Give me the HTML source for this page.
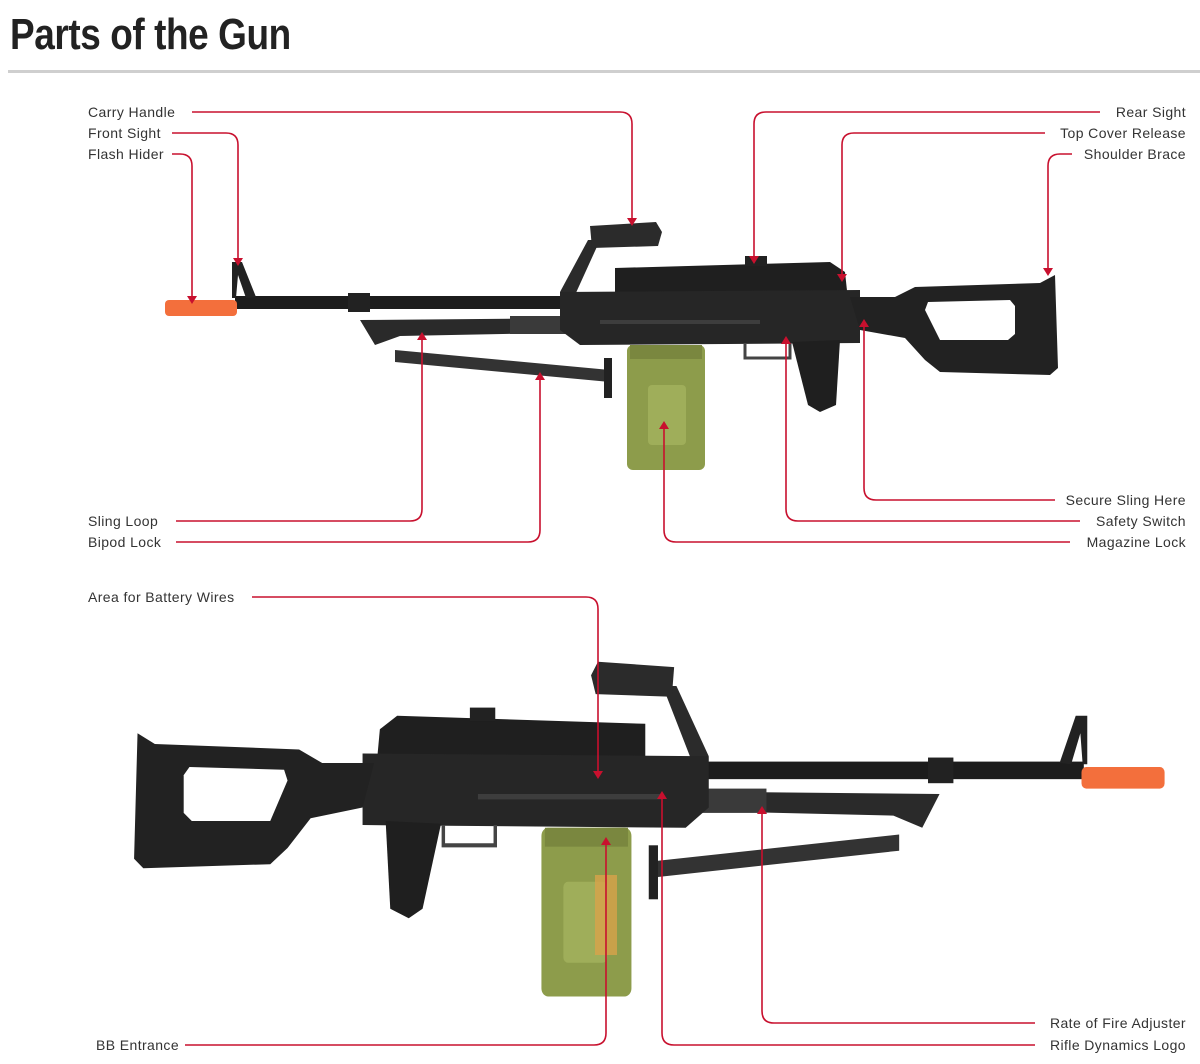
<!DOCTYPE html>
<html><head><meta charset="utf-8"><style>
html,body{margin:0;padding:0;background:#fff;}
body{width:1200px;height:1064px;position:relative;overflow:hidden;font-family:"Liberation Sans",sans-serif;}
.t{position:absolute;left:10px;top:10px;font-size:44px;font-weight:bold;color:#222;transform:scaleX(0.84);transform-origin:left top;letter-spacing:-0.5px;}
.hr{position:absolute;left:8px;top:70px;width:1192px;height:3px;background:#cfcfcf;}
svg{position:absolute;left:0;top:0;}
svg text{font-family:"Liberation Sans",sans-serif;font-size:14px;letter-spacing:0.4px;fill:#333;}
</style></head><body>
<div class="t">Parts of the Gun</div>
<div class="hr"></div>
<svg width="1200" height="1064" viewBox="0 0 1200 1064">
<defs>
<g id="gun">
  <path d="M395,350 L610,370 L610,382 L395,362 Z" fill="#333"/>
  <rect x="604" y="358" width="8" height="40" fill="#222"/>
  <path d="M360,320 L600,318 L600,332 L400,336 L375,345 Z" fill="#2a2a2a"/>
  <rect x="510" y="316" width="60" height="18" fill="#3a3a3a"/>
  <rect x="235" y="296" width="340" height="13" fill="#1c1c1c"/>
  <rect x="348" y="293" width="22" height="19" fill="#222"/>
  <rect x="165" y="300" width="72" height="16" rx="4" fill="#f36f3c"/>
  <path d="M232,262 L242,262 L256,297 L246,298 L238,275 L236,298 L232,298 Z" fill="#222"/>
  <path d="M560,292 L588,240 L600,240 L575,295 Z" fill="#2b2b2b"/>
  <path d="M590,226 L656,222 L662,232 L658,246 L592,248 Z" fill="#2b2b2b"/>
  <path d="M615,268 L830,262 L845,272 L848,300 L615,300 Z" fill="#1f1f1f"/>
  <rect x="745" y="256" width="22" height="10" fill="#222"/>
  <path d="M560,292 L860,290 L860,343 L580,345 L560,330 Z" fill="#262626"/>
  <rect x="600" y="320" width="160" height="4" fill="#3d3d3d"/>
  <path d="M850,297 L895,297 L915,287 L1040,283 L1055,275 L1058,368 L1050,375 L940,372 L925,360 L905,338 L860,330 Z" fill="#222"/>
  <path d="M928,302 L1010,300 L1015,306 L1015,334 L1008,340 L940,340 L925,310 Z" fill="#fff"/>
  <path d="M745,343 L745,358 L790,358 L790,343" fill="none" stroke="#444" stroke-width="3"/>
  <path d="M792,342 L840,340 L836,405 L820,412 L808,405 Z" fill="#1f1f1f"/>
  <rect x="627" y="345" width="78" height="125" rx="6" fill="#8d9c4b"/>
  <rect x="630" y="345" width="72" height="14" fill="#7a873f"/>
  <rect x="648" y="385" width="38" height="60" rx="4" fill="#9fae5a"/>
</g>
</defs>
<use href="#gun"/>
<use href="#gun" transform="matrix(-1.154,0,0,1.35,1355,362)"/>
<rect x="595" y="875" width="22" height="80" fill="#d8a24a" opacity="0.8"/>

<g fill="none" stroke="#c8102e" stroke-width="1.6">
  <path d="M192,112 H620 Q632,112 632,124 V220"/>
  <path d="M172,133 H226 Q238,133 238,145 V260"/>
  <path d="M172,154 H180 Q192,154 192,166 V298"/>
  <path d="M1100,112 H766 Q754,112 754,124 V258"/>
  <path d="M1045,133 H854 Q842,133 842,145 V276"/>
  <path d="M1072,154 H1060 Q1048,154 1048,166 V270"/>
  <path d="M176,521 H410 Q422,521 422,509 V338"/>
  <path d="M176,542 H528 Q540,542 540,530 V378"/>
  <path d="M1055,500 H876 Q864,500 864,488 V325"/>
  <path d="M1080,521 H798 Q786,521 786,509 V342"/>
  <path d="M1070,542 H676 Q664,542 664,530 V427"/>
  <path d="M252,597 H586 Q598,597 598,609 V773"/>
  <path d="M185,1045 H594 Q606,1045 606,1033 V843"/>
  <path d="M1035,1023 H774 Q762,1023 762,1011 V812"/>
  <path d="M1035,1045 H674 Q662,1045 662,1033 V797"/>
</g>
<g fill="#c8102e">
  <path d="M627,218 L637,218 L632,226 Z"/>
  <path d="M233,258 L243,258 L238,266 Z"/>
  <path d="M187,296 L197,296 L192,304 Z"/>
  <path d="M749,256 L759,256 L754,264 Z"/>
  <path d="M837,274 L847,274 L842,282 Z"/>
  <path d="M1043,268 L1053,268 L1048,276 Z"/>
  <path d="M417,340 L427,340 L422,332 Z"/>
  <path d="M535,380 L545,380 L540,372 Z"/>
  <path d="M859,327 L869,327 L864,319 Z"/>
  <path d="M781,344 L791,344 L786,336 Z"/>
  <path d="M659,429 L669,429 L664,421 Z"/>
  <path d="M593,771 L603,771 L598,779 Z"/>
  <path d="M601,845 L611,845 L606,837 Z"/>
  <path d="M757,814 L767,814 L762,806 Z"/>
  <path d="M657,799 L667,799 L662,791 Z"/>
</g>
<g>
  <text x="88" y="117">Carry Handle</text>
  <text x="88" y="138">Front Sight</text>
  <text x="88" y="159">Flash Hider</text>
  <text x="1186" y="117" text-anchor="end">Rear Sight</text>
  <text x="1186" y="138" text-anchor="end">Top Cover Release</text>
  <text x="1186" y="159" text-anchor="end">Shoulder Brace</text>
  <text x="88" y="526">Sling Loop</text>
  <text x="88" y="547">Bipod Lock</text>
  <text x="1186" y="505" text-anchor="end">Secure Sling Here</text>
  <text x="1186" y="526" text-anchor="end">Safety Switch</text>
  <text x="1186" y="547" text-anchor="end">Magazine Lock</text>
  <text x="88" y="602">Area for Battery Wires</text>
  <text x="96" y="1050">BB Entrance</text>
  <text x="1186" y="1028" text-anchor="end">Rate of Fire Adjuster</text>
  <text x="1186" y="1050" text-anchor="end">Rifle Dynamics Logo</text>
</g>
</svg>
</body></html>
